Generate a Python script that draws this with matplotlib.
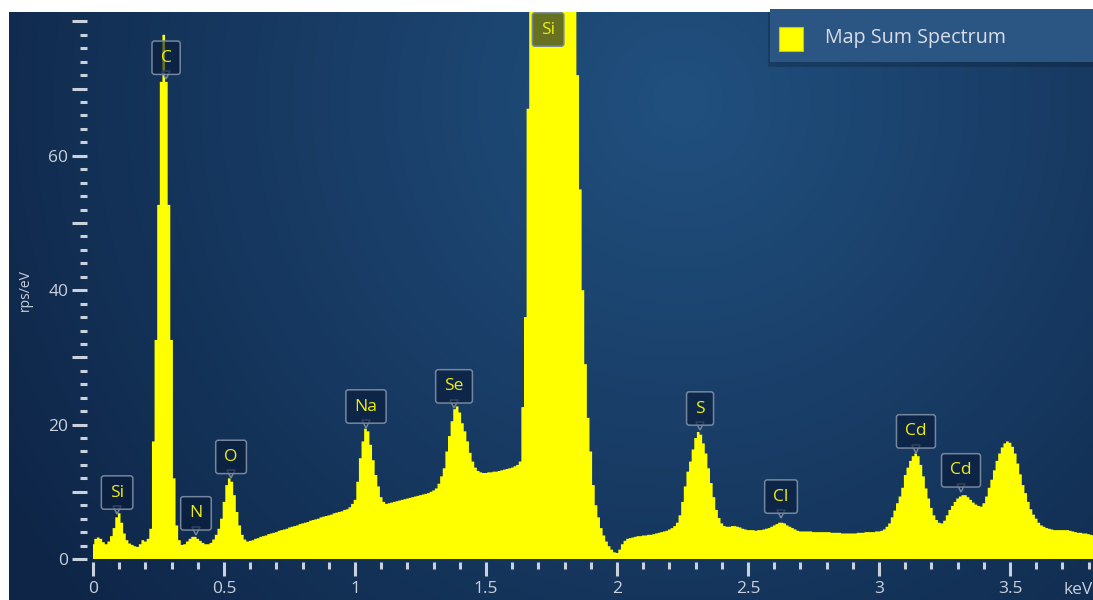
import numpy as np
import matplotlib.pyplot as plt
from matplotlib.patches import Rectangle
from matplotlib.colors import to_rgb
import matplotlib.transforms as mtransforms

plt.rcParams['font.family'] = ['Open Sans', 'DejaVu Sans']

# EDS spectrum, one value per 10 eV channel starting at 0 keV (rps/eV)
counts = [
    2.2, 3.0, 3.2, 3.0, 2.5, 2.2, 2.6, 3.4, 4.6, 6.2,        # 0.0
    6.8, 5.4, 3.8, 2.8, 2.3, 2.1, 1.9, 1.8, 2.2, 2.8,        # 0.1
    2.6, 3.0, 4.5, 17.5, 32.6, 52.7, 71.0, 78.0, 71.0, 52.7,  # 0.2
    32.6, 12.0, 5.0, 2.8, 2.1, 2.2, 2.6, 3.0, 3.3, 3.3,      # 0.3
    3.0, 2.7, 2.4, 2.2, 2.2, 2.4, 2.9, 3.6, 4.5, 6.0,        # 0.4
    8.5, 11.0, 12.0, 11.5, 9.5, 7.0, 5.0, 3.6, 2.9, 2.6,     # 0.5
    2.7, 2.8, 3.0, 3.1, 3.3, 3.4, 3.5, 3.7, 3.8, 3.9,        # 0.6
    4.0, 4.2, 4.3, 4.4, 4.5, 4.7, 4.8, 4.9, 5.0, 5.2,        # 0.7
    5.3, 5.4, 5.5, 5.7, 5.8, 5.9, 6.0, 6.2, 6.3, 6.4,        # 0.8
    6.5, 6.6, 6.8, 6.9, 7.0, 7.1, 7.3, 7.4, 7.7, 8.2,        # 0.9
    8.8, 11.5, 15.0, 17.5, 19.4, 19.0, 17.0, 14.7, 12.5, 10.8,  # 1.0
    9.2, 8.5, 8.2, 8.3, 8.4, 8.5, 8.6, 8.7, 8.8, 8.9,        # 1.1
    9.0, 9.1, 9.2, 9.3, 9.4, 9.5, 9.6, 9.7, 9.8, 10.0,       # 1.2
    10.2, 10.5, 11.2, 12.3, 13.5, 16.0, 18.3, 20.5, 22.3, 22.7,  # 1.3
    21.8, 20.2, 19.0, 17.5, 15.8, 14.5, 13.6, 13.1, 12.9, 12.8,  # 1.4
    12.8, 12.9, 12.9, 13.0, 13.0, 13.1, 13.2, 13.3, 13.4, 13.5,  # 1.5
    13.6, 13.8, 14.0, 14.5, 22.6, 36.0, 67.0, 95.0, 120.0, 140.0,  # 1.6
    155.0, 165.0, 172.0, 175.0, 173.0, 166.0, 155.0, 140.0, 122.0, 103.0,  # 1.7
    95.0, 92.0, 90.0, 88.0, 84.0, 72.0, 55.0, 40.0, 29.0, 21.0,  # 1.8
    16.0, 11.0, 8.0, 6.2, 4.6, 3.5, 2.6, 1.9, 1.4, 1.0,      # 1.9
    0.9, 1.4, 2.2, 2.7, 3.0, 3.1, 3.2, 3.3, 3.4, 3.4,        # 2.0
    3.5, 3.5, 3.6, 3.6, 3.7, 3.8, 3.9, 4.0, 4.1, 4.2,        # 2.1
    4.4, 4.6, 4.9, 5.4, 6.5, 8.5, 10.8, 13.0, 14.5, 16.3,    # 2.2
    18.0, 18.9, 18.5, 17.2, 15.7, 13.5, 11.3, 9.2, 7.3, 6.1,  # 2.3
    5.3, 4.9, 4.8, 4.8, 4.9, 4.9, 4.8, 4.7, 4.5, 4.4,        # 2.4
    4.3, 4.3, 4.3, 4.2, 4.3, 4.3, 4.4, 4.5, 4.6, 4.8,        # 2.5
    5.0, 5.2, 5.4, 5.4, 5.3, 5.0, 4.8, 4.6, 4.4, 4.2,        # 2.6
    4.1, 4.1, 4.1, 4.1, 4.1, 4.0, 4.0, 4.0, 4.0, 4.0,        # 2.7
    4.0, 4.0, 3.9, 3.9, 3.9, 3.9, 3.8, 3.8, 3.8, 3.8,        # 2.8
    3.8, 3.8, 3.9, 3.9, 3.9, 4.0, 4.0, 4.0, 4.0, 4.1,        # 2.9
    4.1, 4.2, 4.4, 4.8, 5.3, 6.2, 7.2, 8.3, 9.3, 10.6,       # 3.0
    12.5, 13.6, 14.6, 15.3, 15.7, 15.3, 14.0, 12.3, 10.5, 9.0,  # 3.1
    7.6, 6.5, 5.8, 5.4, 5.3, 5.7, 6.5, 7.3, 7.9, 8.5,        # 3.2
    9.0, 9.3, 9.5, 9.5, 9.2, 8.8, 8.4, 8.1, 7.9, 7.8,        # 3.3
    8.3, 9.3, 10.6, 11.8, 13.2, 14.6, 15.7, 16.6, 17.2, 17.5,  # 3.4
    17.3, 16.7, 15.7, 14.2, 12.6, 11.0, 9.8, 8.5, 7.4, 6.6,  # 3.5
    6.0, 5.4, 5.0, 4.8, 4.6, 4.5, 4.4, 4.3, 4.3, 4.3,        # 3.6
    4.3, 4.3, 4.3, 4.2, 4.1, 4.0, 3.9, 3.9, 3.8, 3.8,        # 3.7
    3.7, 3.6, 3.5,                                            # 3.8
]
energy = np.arange(len(counts)) * 0.01

# peak labels: element, energy (keV), height of the label pointer, draw pointer
label_names = ['Si', 'C', 'N', 'O', 'Na', 'Se', 'Si', 'S', 'Cl', 'Cd', 'Cd']
label_keV = [0.092, 0.279, 0.393, 0.527, 1.042, 1.378, 1.737, 2.317, 2.626, 3.141, 3.313]
label_at = [7.0, 71.7, 3.9, 12.3, 19.8, 22.8, 75.9, 19.5, 6.4, 16.1, 10.3]
label_ptr = [True, True, True, True, True, True, False, True, True, True, True]

x_ticks = [0, 0.5, 1, 1.5, 2, 2.5, 3, 3.5]
x_labels = ['0', '0.5', '1', '1.5', '2', '2.5', '3', '3.5']
y_ticks = [0, 10, 20, 30, 40, 50, 60, 70, 80]
y_labels = ['0', '', '20', '', '40', '', '60', '', '']

yellow = '#ffff00'
tick_col = '#c9d1dc'
box_fc = (0.03, 0.10, 0.22, 0.62)
box_ec = '#75879c'

fig = plt.figure(figsize=(10.93, 6.0), dpi=100, facecolor='white')
ax = fig.add_axes([9 / 1093, 0, 1084 / 1093, 588 / 600])

# radial background gradient
ny, nx = 300, 560
yy, xx = np.mgrid[0:1:ny * 1j, 0:1:nx * 1j]
r = np.sqrt(((xx - 0.62) * 1.84) ** 2 + ((yy - 0.85) * 1.0) ** 2)
t = np.clip(r / 1.35, 0, 1)[..., None]
c_in = np.array(to_rgb('#21507f'))
c_out = np.array(to_rgb('#0e2547'))
img = c_in + (c_out - c_in) * t
ax.imshow(img, extent=(0, 1, 0, 1), transform=ax.transAxes, origin='lower',
          aspect='auto', zorder=0, interpolation='bilinear')

ax.fill_between(energy, 0, counts, step='mid', color=yellow, lw=0, zorder=2)

ax.set_xlim(-0.3206, 3.8168)
ax.set_ylim(-6.10, 81.40)

for sp in ['top', 'right']:
    ax.spines[sp].set_visible(False)
ax.spines['left'].set_position(('data', -0.023))
ax.spines['bottom'].set_position(('data', -0.45))
ax.spines['left'].set_color('none')
ax.spines['bottom'].set_color('none')

ax.set_xticks(x_ticks)
ax.set_xticklabels(x_labels)
ax.set_xticks(np.arange(0, 3.85, 0.1), minor=True)
ax.set_yticks(y_ticks)
ax.set_yticklabels(y_labels)
ax.set_yticks(np.arange(0, 82, 2), minor=True)

ax.tick_params(axis='x', which='major', direction='out', length=10, width=2.2,
               color=tick_col, labelcolor=tick_col, labelsize=12.5, pad=4)
ax.tick_params(axis='x', which='minor', direction='out', length=5, width=2.2,
               color=tick_col)
ax.tick_params(axis='y', which='major', direction='out', length=10.5, width=2.2,
               color=tick_col, labelcolor=tick_col, labelsize=12.5, pad=3)
ax.tick_params(axis='y', which='minor', direction='out', length=5, width=2.2,
               color=tick_col)

ax.text(0.0147, 0.527, 'rps/eV', transform=ax.transAxes, rotation=90,
        ha='center', va='center', color=tick_col, fontsize=10)
ax.text(3.705, -4.6, 'keV', ha='left', va='center', color=tick_col,
        fontsize=12.5, clip_on=True)

# peak labels
ptr_tr = mtransforms.offset_copy(ax.transData, fig=fig, y=2, units='dots')
for name, e, a, ptr in zip(label_names, label_keV, label_at, label_ptr):
    if ptr:
        ax.plot(e, a, marker='v', ms=6, mfc=box_fc, mec=box_ec, mew=1.1,
                transform=ptr_tr, zorder=4)
    ax.annotate(name, xy=(e, a), xytext=(0, 14), textcoords='offset points',
                ha='center', va='center', fontsize=12.5, color='#eeee10',
                bbox=dict(boxstyle='round,pad=0.5,rounding_size=0.15',
                          fc=box_fc, ec=box_ec, lw=1.1), zorder=5)

# legend panel
ax.add_patch(Rectangle((0.700, 0.907), 0.32, 0.093, transform=ax.transAxes,
                       fc=(0, 0, 0, 0.18), ec='none', zorder=6, clip_on=False))
ax.add_patch(Rectangle((0.702, 0.915), 0.32, 0.09, transform=ax.transAxes,
                       fc='#2b5583', ec='none', zorder=7, clip_on=False))
ax.add_patch(Rectangle((0.7103, 0.934), 0.0222, 0.041, transform=ax.transAxes,
                       fc=yellow, ec='#c8c800', lw=0.8, zorder=8))
ax.text(0.7528, 0.956, 'Map Sum Spectrum', transform=ax.transAxes,
        ha='left', va='center', color='#d9dee6', fontsize=14.2, zorder=9)

fig.savefig('out.png', dpi=100, facecolor='white')
